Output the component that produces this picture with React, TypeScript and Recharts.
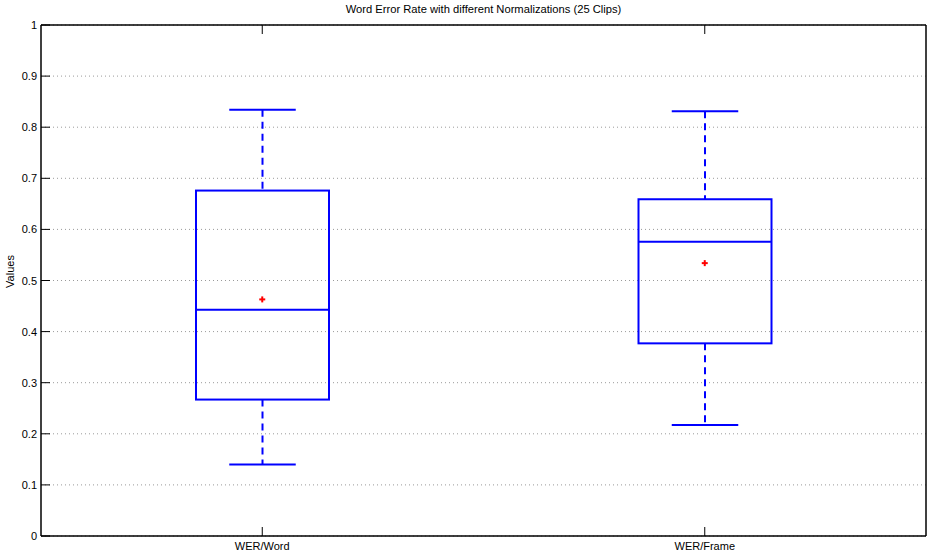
import React from 'react';
import { ComposedChart, Bar, Scatter, XAxis, YAxis, CartesianGrid } from 'recharts';

const categories = ['WER/Word', 'WER/Frame'];
const whiskerLow = [0.14, 0.217];
const q1 = [0.267, 0.377];
const median = [0.443, 0.576];
const q3 = [0.676, 0.659];
const whiskerHigh = [0.834, 0.831];
const means = [0.463, 0.534];
const yTicks = [0, 0.1, 0.2, 0.3, 0.4, 0.5, 0.6, 0.7, 0.8, 0.9, 1];

const data = categories.map((name, i) => ({
  name,
  low: whiskerLow[i],
  q1: q1[i],
  median: median[i],
  q3: q3[i],
  high: whiskerHigh[i],
  mean: means[i],
  range: [whiskerLow[i], whiskerHigh[i]],
}));

const BLUE = '#0000ff';
const FONT = 'Liberation Sans, Arial, Helvetica, sans-serif';

const BoxShape = (props: any) => {
  const { x, y, width, height, payload } = props;
  const lo = payload.low;
  const hi = payload.high;
  const toY = (v: number) => y + (height * (hi - v)) / (hi - lo);
  const cx = x + width / 2;
  const capHalf = width / 4;
  const yQ1 = toY(payload.q1);
  const yQ3 = toY(payload.q3);
  const yMed = toY(payload.median);
  const yHi = toY(hi);
  const yLo = toY(lo);
  return (
    <g>
      <line x1={cx} x2={cx} y1={yHi} y2={yQ3} stroke={BLUE} strokeWidth={2} strokeDasharray="7 5" />
      <line x1={cx} x2={cx} y1={yQ1} y2={yLo} stroke={BLUE} strokeWidth={2} strokeDasharray="7 5" />
      <line x1={cx - capHalf} x2={cx + capHalf} y1={yHi} y2={yHi} stroke={BLUE} strokeWidth={2} />
      <line x1={cx - capHalf} x2={cx + capHalf} y1={yLo} y2={yLo} stroke={BLUE} strokeWidth={2} />
      <rect x={x} y={yQ3} width={width} height={yQ1 - yQ3} fill="none" stroke={BLUE} strokeWidth={2} />
      <line x1={x} x2={x + width} y1={yMed} y2={yMed} stroke={BLUE} strokeWidth={2} />
    </g>
  );
};

const PlusShape = (props: any) => {
  const { cx, cy } = props;
  return (
    <g>
      <line x1={cx - 3} x2={cx + 3} y1={cy} y2={cy} stroke="#ff0000" strokeWidth={2} />
      <line x1={cx} x2={cx} y1={cy - 3} y2={cy + 3} stroke="#ff0000" strokeWidth={2} />
    </g>
  );
};

const LeftTick = (props: any) => {
  const { x, y, payload } = props;
  return (
    <g>
      <line x1={x} x2={x + 9} y1={y} y2={y} stroke="#000" strokeWidth={1} />
      <text x={x - 4} y={y} dy={4} textAnchor="end" fontSize={11} fontFamily={FONT} fill="#000">
        {String(payload.value)}
      </text>
    </g>
  );
};

const RightTick = (props: any) => {
  const { x, y } = props;
  return <line x1={x} x2={x - 9} y1={y} y2={y} stroke="#000" strokeWidth={1} />;
};

const BottomTick = (props: any) => {
  const { x, y, payload } = props;
  return (
    <g>
      <line x1={x} x2={x} y1={y} y2={y - 9} stroke="#000" strokeWidth={1} />
      <text x={x} y={y} dy={14} textAnchor="middle" fontSize={11} fontFamily={FONT} fill="#000">
        {payload.value}
      </text>
    </g>
  );
};

const TopTick = (props: any) => {
  const { x, y } = props;
  return <line x1={x} x2={x} y1={y} y2={y + 9} stroke="#000" strokeWidth={1} />;
};

const YLabel = (props: any) => {
  const { viewBox } = props;
  const cy = viewBox.y + viewBox.height / 2 - 9;
  const cx = 10;
  return (
    <text
      x={cx}
      y={cy}
      transform={`rotate(-90, ${cx}, ${cy})`}
      textAnchor="middle"
      dominantBaseline="central"
      fontSize={11}
      fontFamily={FONT}
      fill="#000"
    >
      Values
    </text>
  );
};

export default function App() {
  return (
    <div style={{ position: 'absolute', left: 0, top: 0, width: 927, height: 554, background: '#fff' }}>
      <div
        style={{
          position: 'absolute',
          left: 41,
          width: 885,
          top: 2,
          textAlign: 'center',
          fontFamily: FONT,
          fontSize: 11.2,
          lineHeight: '14px',
          color: '#000',
        }}
      >
        Word Error Rate with different Normalizations (25 Clips)
      </div>
      <ComposedChart
        width={927}
        height={554}
        data={data}
        margin={{ top: 24, right: 0, left: 0, bottom: 0 }}
        style={{ position: 'absolute', left: 0, top: 0 }}
      >
        <CartesianGrid horizontal vertical={false} stroke="#9a9a9a" strokeDasharray="1 3" />
        <XAxis
          dataKey="name"
          xAxisId={0}
          height={18}
          tickSize={0}
          tickMargin={0}
          tick={<BottomTick />}
          tickLine={false}
          axisLine={{ stroke: '#000', strokeWidth: 1.5 }}
          interval={0}
        />
        <XAxis
          dataKey="name"
          xAxisId="top"
          orientation="top"
          height={1}
          tickSize={0}
          tickMargin={0}
          tick={<TopTick />}
          tickLine={false}
          axisLine={{ stroke: '#000', strokeWidth: 1.5 }}
          interval={0}
        />
        <YAxis
          yAxisId={0}
          width={41}
          domain={[0, 1]}
          ticks={yTicks}
          tickSize={0}
          tickMargin={0}
          tick={<LeftTick />}
          tickLine={false}
          axisLine={{ stroke: '#000', strokeWidth: 1.5 }}
          interval={0}
          label={<YLabel />}
        />
        <YAxis
          yAxisId="r"
          orientation="right"
          width={1}
          domain={[0, 1]}
          ticks={yTicks}
          tickSize={0}
          tickMargin={0}
          tick={<RightTick />}
          tickLine={false}
          axisLine={{ stroke: '#000', strokeWidth: 1.5 }}
          interval={0}
        />
        <Bar dataKey="range" barSize={133} shape={<BoxShape />} isAnimationActive={false} />
        <Scatter dataKey="mean" shape={<PlusShape />} isAnimationActive={false} />
      </ComposedChart>
    </div>
  );
}
